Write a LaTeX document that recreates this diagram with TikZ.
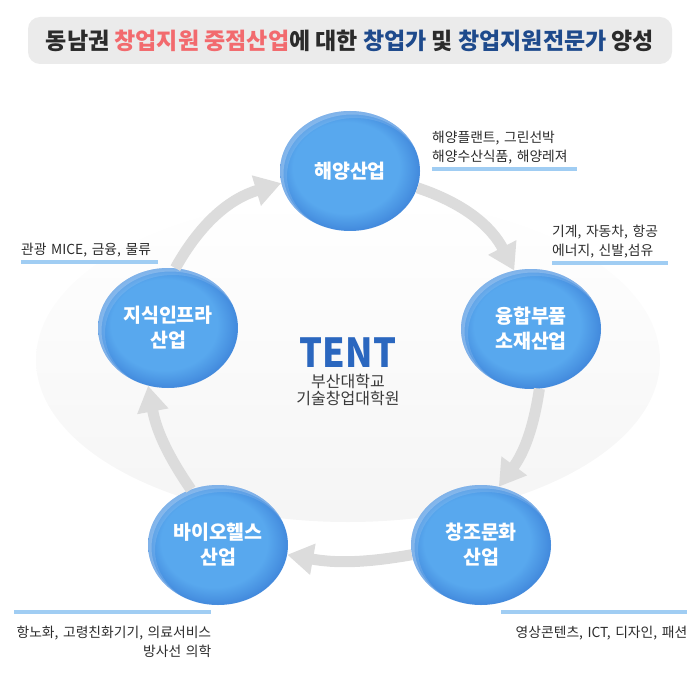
\documentclass[tikz,border=0pt]{standalone}
\usepackage{fontspec}
\usepackage{graphicx}
\setmainfont{Noto Sans CJK KR}
\usetikzlibrary{arrows.meta, positioning, shapes.geometric}

\definecolor{boxgray}{HTML}{EBEBEB}
\definecolor{inkgray}{HTML}{2B2B2B}
\definecolor{hotpink}{HTML}{F26A6E}
\definecolor{navy}{HTML}{1E4A8C}
\definecolor{bubmid}{HTML}{58A8EE}
\definecolor{bubedge}{HTML}{2E6DCC}
\definecolor{flowgray}{HTML}{DCDCDC}
\definecolor{barblue}{HTML}{A0CDF3}
\definecolor{tentblue}{HTML}{2B67BF}
\definecolor{subgray}{HTML}{3A3A3A}

\pgfdeclareradialshading{bubble}{\pgfpoint{-3.5bp}{3.5bp}}{%
  color(0bp)=(bubmid); color(19bp)=(bubmid); color(23.5bp)=(bubmid!65!bubedge); color(31bp)=(bubedge)}

\begin{document}
\begin{tikzpicture}[x=1pt, y=-1pt,
    bubble/.style={ellipse, shade, shading=bubble, minimum width=140pt, minimum height=120pt,
      inner sep=0pt, align=center, text=white, font=\fontsize{19.5}{25}\selectfont\bfseries,
      path picture={
        \fill[white, opacity=0.22, even odd rule]
          (path picture bounding box.center) ellipse [x radius=70, y radius=60]
          ([xshift=2.5pt, yshift=-2.5pt]path picture bounding box.center) ellipse [x radius=69, y radius=59];
        \fill[white, opacity=0.12, even odd rule]
          (path picture bounding box.center) ellipse [x radius=70, y radius=60]
          ([xshift=5pt, yshift=-5pt]path picture bounding box.center) ellipse [x radius=68, y radius=58];
      }},
    tag/.style={inner xsep=0pt, inner ysep=0pt, text=inkgray, font=\fontsize{13.8}{19}\selectfont},
    bar/.style={draw=barblue, line width=4pt},
    flow/.style={-{Triangle[length=26pt, width=30pt]}, line width=11pt, draw=flowgray}
  ]
    \useasboundingbox (0,0) rectangle (700,684);
    \shade[top color=white, bottom color=black!4] (348,360) ellipse [x radius=312, y radius=162];

    \node[fill=boxgray, rounded corners=12pt, minimum width=644pt, minimum height=47pt, inner sep=0pt,
      text=inkgray, font=\fontsize{23}{26}\selectfont\bfseries] (title) at (350,40.5)
      {동남권 \textcolor{hotpink}{창업지원 중점산업}에 대한 \textcolor{navy}{창업가} 및 \textcolor{navy}{창업지원전문가} 양성};

    % five industries
    \node[bubble] (haeyang) at (350,171) {해양산업};
    \node[bubble] (yunghap) at (531,329) {융합부품\\소재산업};
    \node[bubble] (culture) at (481,545) {창조문화\\산업};
    \node[bubble] (bio) at (218,545) {바이오헬스\\산업};
    \node[bubble] (jisik) at (168,328) {지식인프라\\산업};

    \draw[flow] (jisik.83) to[bend left=22] (haeyang.190);
    \draw[flow] (haeyang.346) to[bend left=22] (yunghap.106);
    \draw[flow] (yunghap.278) to[bend left=14] (culture.73);
    \draw[flow] (culture.188) to[bend left=10] (bio.352);
    \draw[flow] (bio.116) to[bend left=12] (jisik.251);

    \node[text=tentblue, font=\fontsize{40}{40}\selectfont\bfseries, inner sep=0pt] (tent) at (348,352.5)
      {\scalebox{0.9}[1]{TENT}};
    \node[text=subgray, font=\fontsize{16}{17.5}\selectfont, align=center, below=3pt of tent] (tentsub)
      {부산대학교\\기술창업대학원};

    % fields of each industry
    \node[tag, text width=145pt, align=left, anchor=south west] (haeyangtag) at (432,164)
      {해양플랜트, 그린선박\\해양수산식품, 해양레져};
    \node[tag, text width=116pt, align=left, anchor=south west] (yunghaptag) at (552,258)
      {기계, 자동차, 항공\\에너지, 신발,섬유};
    \node[tag, text width=137pt, align=left, anchor=south west] (jisiktag) at (21,257)
      {관광 MICE, 금융, 물류};
    \node[tag, text width=197pt, align=right, anchor=north west] (biotag) at (14,626)
      {항노화, 고령친화기기, 의료서비스\\방사선 의학};
    \node[tag, text width=186pt, align=right, anchor=north west] (culturetag) at (501,626)
      {영상콘텐츠, ICT, 디자인, 패션};

    \draw[bar] ([yshift=-5pt]haeyangtag.south west) -- ([yshift=-5pt]haeyangtag.south east);
    \draw[bar] ([yshift=-5pt]yunghaptag.south west) -- ([yshift=-5pt]yunghaptag.south east);
    \draw[bar] ([yshift=-5pt]jisiktag.south west) -- ([yshift=-5pt]jisiktag.south east);
    \draw[bar] ([yshift=14pt]biotag.north west) -- ([yshift=14pt]biotag.north east);
    \draw[bar] ([yshift=14pt]culturetag.north west) -- ([yshift=14pt]culturetag.north east);
\end{tikzpicture}
\end{document}
